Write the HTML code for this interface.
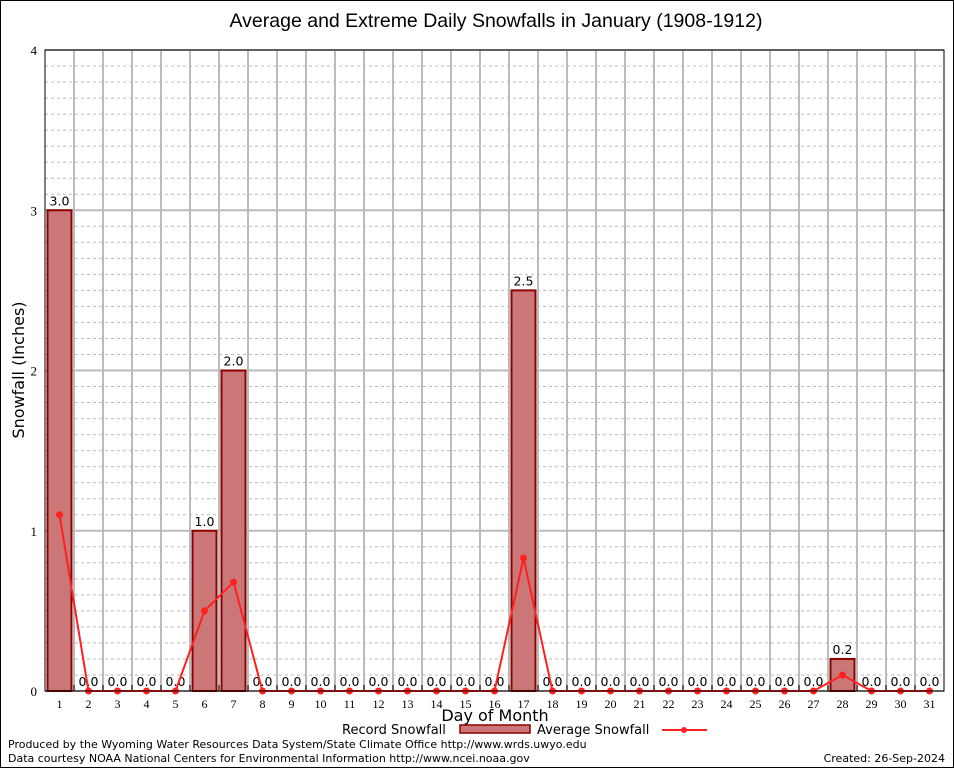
<!DOCTYPE html>
<html><head><meta charset="utf-8"><style>
body{margin:0;background:#fff}
svg{display:block;font-family:"DejaVu Sans","Liberation Sans",sans-serif}
</style></head><body>
<svg id="chart" width="954" height="768" viewBox="0 0 954 768" xmlns="http://www.w3.org/2000/svg">
<rect x="0.5" y="0.5" width="953" height="767" fill="#fff" stroke="#000"/>
<text x="496" y="27" font-size="19.5" text-anchor="middle" font-family="Liberation Sans, sans-serif">Average and Extreme Daily Snowfalls in January (1908-1912)</text>
<g id="grid"></g>
<g id="bars"></g>
<g id="line"></g>
<rect x="45" y="50" width="899" height="641" fill="none" stroke="#000"/>
<text transform="translate(24,370) rotate(-90)" font-size="16" text-anchor="middle">Snowfall (Inches)</text>
<text x="495" y="721" font-size="16" text-anchor="middle">Day of Month</text>
<g>
<text x="342" y="734" font-size="13">Record Snowfall</text>
<rect x="460" y="725" width="70" height="8" fill="#cc7777" stroke="#8b0000" stroke-width="1.5"/>
<text x="537" y="734" font-size="13">Average Snowfall</text>
<line x1="662" y1="730" x2="707" y2="730" stroke="#ff2020" stroke-width="2"/>
<circle cx="684" cy="730" r="3" fill="#ff2020"/>
</g>
<text x="8" y="748" font-size="11">Produced by the Wyoming Water Resources Data System/State Climate Office http://www.wrds.uwyo.edu</text>
<text x="8" y="762" font-size="11">Data courtesy NOAA National Centers for Environmental Information http://www.ncei.noaa.gov</text>
<text x="945" y="762" font-size="11" text-anchor="end">Created: 26-Sep-2024</text>
</svg>
<script>
const days=[1,2,3,4,5,6,7,8,9,10,11,12,13,14,15,16,17,18,19,20,21,22,23,24,25,26,27,28,29,30,31];
const recordSnow=[3.0,0,0,0,0,1.0,2.0,0,0,0,0,0,0,0,0,0,2.5,0,0,0,0,0,0,0,0,0,0,0.2,0,0,0];
const avgSnow=[1.1,0,0,0,0,0.5,0.68,0,0,0,0,0,0,0,0,0,0.83,0,0,0,0,0,0,0,0,0,0,0.1,0,0,0];
const yTicks=[0,1,2,3,4];
const NS="http://www.w3.org/2000/svg";
const L=45,R=944,T=50,B=691,yMax=4;
const step=(R-L)/days.length;
const xs=i=>L+step*(i+0.5);
const ys=v=>B-(v/yMax)*(B-T);
function mk(tag,attrs,parent){const e=document.createElementNS(NS,tag);for(const k in attrs)e.setAttribute(k,attrs[k]);parent.appendChild(e);return e;}
const grid=document.getElementById('grid'),bars=document.getElementById('bars'),line=document.getElementById('line');
for(let v=0.1;v<yMax;v+=0.1){
 if(Math.abs(v-Math.round(v))<0.01)continue;
 const g=mk('line',{x1:L,x2:R,y1:ys(v),y2:ys(v),stroke:'#bbb','stroke-dasharray':'3,3'},grid);
 
 
}
yTicks.forEach(t=>{
 const g=mk('line',{x1:L,x2:R,y1:ys(t),y2:ys(t),stroke:'#bbb','stroke-width':2},grid);
 
 
 const tx=mk('text',{x:L-8,y:ys(t)+5,'font-size':13,'text-anchor':'end','font-family':'Liberation Serif, serif'},grid);
 tx.textContent=t;
 
 
});
for(let k=1;k<days.length;k++){
 const x=L+step*k;
 const g=mk('line',{x1:x,x2:x,y1:T,y2:B,stroke:'#bbb','stroke-width':2},grid);
 
 
 const tk=mk('line',{x1:x,x2:x,y1:B-6,y2:B,stroke:'#000'},grid);
 
 
}
days.forEach((d,i)=>{
 const tx=mk('text',{x:xs(i),y:B+17,'font-size':12,'text-anchor':'middle','font-family':'Liberation Serif, serif'},grid);
 tx.textContent=d;
 
 
 const v=recordSnow[i];
 if(v>0){
  const r=mk('rect',{x:xs(i)-12,y:ys(v),width:24,height:B-ys(v),fill:'#cc7777',stroke:'#8b0000','stroke-width':2},bars);
  
  
 }
 const lb=mk('text',{x:xs(i),y:ys(v)-5,'font-size':12.5,'text-anchor':'middle'},bars);
 lb.textContent=v.toFixed(1);
 
 
});
const pts=avgSnow.map((v,i)=>xs(i)+','+ys(v)).join(' ');
const pl=mk('polyline',{points:pts,fill:'none',stroke:'#ff2020','stroke-width':2},line);


avgSnow.forEach((v,i)=>{
 const c=mk('circle',{cx:xs(i),cy:ys(v),r:3.5,fill:'#ff2020'},line);
 
 
});
</script>
</body></html>
